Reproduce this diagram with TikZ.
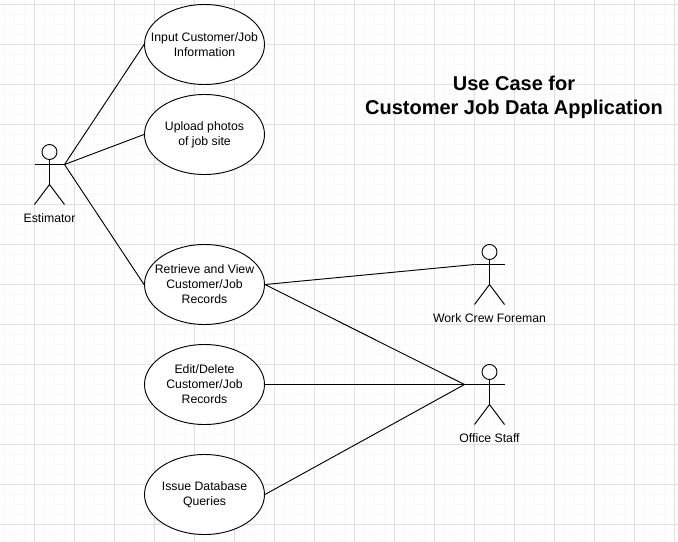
\documentclass[tikz,border=0pt]{standalone}
\usepackage{fontspec}
\setmainfont{Liberation Sans}
\usetikzlibrary{positioning}
\usetikzlibrary{shapes.geometric}
\definecolor{gridminor}{RGB}{248,248,248}
\definecolor{gridmajor}{RGB}{224,224,224}

\tikzset{
    usecase/.style={ellipse, draw, fill=white, line width=0.7pt, minimum width=90pt, minimum height=60pt, inner xsep=-15pt, inner ysep=0pt, align=center, font=\fontsize{9.2}{11.2}\selectfont},
    link/.style={draw, line width=0.7pt},
    actorlabel/.style={inner sep=0pt, font=\fontsize{9.2}{11}\selectfont},
    pics/actorfig/.style={code={
        \draw[link] (0,-12.5) circle (7.5);
        \draw[link] (-15,0) -- (15,0);
        \draw[link] (0,-5) -- (0,20);
        \draw[link] (-15,40) -- (0,20) -- (15,40);
        \coordinate (-armL) at (-15,0);
        \coordinate (-armR) at (15,0);
        \coordinate (-foot) at (0,40);
    }}
}

\begin{document}
\begin{tikzpicture}[x=0.75pt, y=-0.75pt]

\useasboundingbox (0,0) rectangle (678,542);
\fill[white] (0,0) rectangle (678,542);

% Background grid
\foreach \gx in {4.5,14.5,...,674.5} \draw[gridminor, line width=0.75pt] (\gx,0) -- (\gx,542);
\foreach \gy in {4.5,14.5,...,534.5} \draw[gridminor, line width=0.75pt] (0,\gy) -- (678,\gy);
\foreach \gx in {34.5,74.5,...,674.5} \draw[gridmajor, line width=0.75pt] (\gx,0) -- (\gx,542);
\foreach \gy in {4.5,44.5,...,524.5} \draw[gridmajor, line width=0.75pt] (0,\gy) -- (678,\gy);

% Use cases
\node[usecase] (input) at (204.5,44.5) {Input Customer/Job\\Information};
\node[usecase] (upload) at (204.5,134.5) {Upload photos\\of job site};
\node[usecase] (retrieve) at (204.5,284.5) {Retrieve and View\\Customer/Job\\Records};
\node[usecase] (edit) at (204.5,384.5) {Edit/Delete\\Customer/Job\\Records};
\node[usecase] (issue) at (204.5,494.5) {Issue Database\\Queries};

% Actors
\pic (estimator) at (49.5,164.5) {actorfig};
\pic (foreman) at (489.5,264.5) {actorfig};
\pic (office) at (489.5,384.5) {actorfig};
\node[actorlabel, below=7pt of estimator-foot] (estimatorlabel) {Estimator};
\node[actorlabel, below=7pt of foreman-foot] (foremanlabel) {Work Crew Foreman};
\node[actorlabel, below=7pt of office-foot] (officelabel) {Office Staff};
\coordinate (officejoin) at (464.5,384.5);

% Title
\node[align=center, inner sep=0pt, font=\fontsize{15}{18}\selectfont\bfseries] (title) at (514,97) {Use Case for\\Customer Job Data Application};

% Draw connectors
\draw[link] (estimator-armR) -- (input.west);
\draw[link] (estimator-armR) -- (upload.west);
\draw[link] (estimator-armR) -- (retrieve.west);
\draw[link] (retrieve.east) -- (foreman-armL);
\draw[link] (retrieve.east) -- (officejoin);
\draw[link] (edit.east) -- (office-armL);
\draw[link] (issue.east) -- (officejoin);

\end{tikzpicture}
\end{document}
